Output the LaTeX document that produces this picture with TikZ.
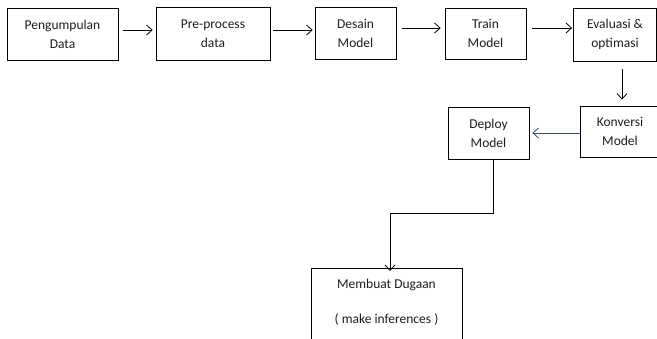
\documentclass[tikz,border=0pt]{standalone}
\usepackage{fontspec}
\setmainfont{Carlito}
\usetikzlibrary{arrows.meta}
\definecolor{ink}{HTML}{1E1E1E}
\definecolor{navyline}{HTML}{2E4A78}
\tikzset{
  stepbox/.style={draw=black, line width=0.8pt, inner sep=0pt, align=center,
    text=ink, font=\fontsize{13.5}{19}\selectfont},
  arr/.style={draw=black, line width=0.8pt,
    -{Straight Barb[length=5.5pt,width=10pt,line width=0.8pt]}},
}
\begin{document}
\begin{tikzpicture}[x=1pt,y=-1pt]
\useasboundingbox[fill=white] (0,0) rectangle (657,338);
% top row
\node[stepbox, minimum width=111pt, minimum height=52pt] (collect) at (62.5,34) {Pengumpulan\\Data};
\node[stepbox, minimum width=114pt, minimum height=53pt] (prep) at (213,33.5) {Pre-process\\data};
\node[stepbox, minimum width=81pt, minimum height=52pt] (design) at (355.5,33) {Desain\\Model};
\node[stepbox, minimum width=81pt, minimum height=51pt] (train) at (485.5,33.5) {Train\\Model};
\node[stepbox, minimum width=83pt, minimum height=53pt] (eval) at (615,34.5) {Evaluasi \&\\optimasi};
% second row
\node[stepbox, minimum width=80pt, minimum height=51pt] (convert) at (620,131.5) {Konversi\\Model};
\node[stepbox, minimum width=81pt, minimum height=52pt] (deploy) at (488.5,133) {Deploy\\Model};
% bottom box, running off the lower edge
\node[stepbox, minimum width=151pt, minimum height=84pt, anchor=north] (infer) at (386.5,268) {};
\node[text=ink, font=\fontsize{13.5}{17.5}\selectfont, align=center, anchor=north, inner sep=0pt]
  (infertext) at (386.5,279) {Membuat Dugaan\\[17.5pt]( make inferences )};
% connectors
\coordinate (rowa) at (0,30);
\coordinate (rowb) at (0,28);
\coordinate (rowc) at (0,133);
\coordinate (down) at (622,0);
\coordinate (bend) at (493,213);
\coordinate (drop) at (390,213);
\draw[arr, shorten <=5pt, shorten >=3pt] (collect.east |- rowa) -- (prep.west |- rowa);
\draw[arr, shorten <=3pt, shorten >=2pt] (prep.east |- rowa) -- (design.west |- rowa);
\draw[arr, shorten <=6pt, shorten >=4pt] (design.east |- rowb) -- (train.west |- rowb);
\draw[arr, shorten <=6pt, shorten >=1pt] (train.east |- rowb) -- (eval.west |- rowb);
\draw[arr, shorten <=8pt, shorten >=6pt] (eval.south -| down) -- (convert.north -| down);
\draw[arr, draw=navyline, shorten >=3pt] (convert.west |- rowc) -- (deploy.east |- rowc);
\draw[arr] (deploy.south -| bend) -- (bend) -- (drop) -- ([yshift=-3pt]infer.north -| drop);
\end{tikzpicture}
\end{document}
